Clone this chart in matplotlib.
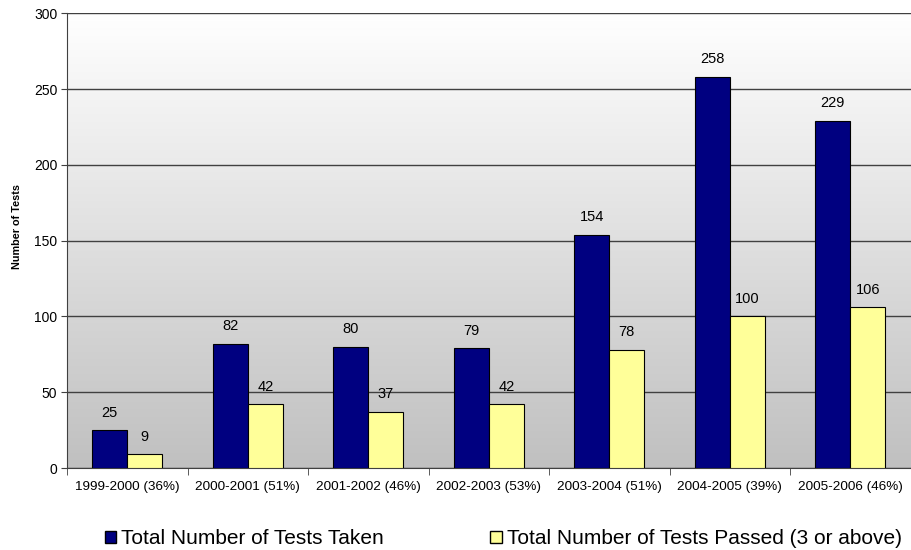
import numpy as np
import matplotlib.pyplot as plt
from matplotlib.patches import Patch
from matplotlib.colors import LinearSegmentedColormap

years = ["1999-2000 (36%)", "2000-2001 (51%)", "2001-2002 (46%)", "2002-2003 (53%)",
         "2003-2004 (51%)", "2004-2005 (39%)", "2005-2006 (46%)"]
taken = [25, 82, 80, 79, 154, 258, 229]
passed = [9, 42, 37, 42, 78, 100, 106]

plt.rcParams.update({
    'font.family': ['Liberation Sans', 'DejaVu Sans'],
    'font.size': 9,
})

fig = plt.figure(figsize=(9.12, 5.5), dpi=100)
ax = fig.add_axes([0.0735, 0.149, 0.925, 0.827])

# gradient background: white at top to grey at bottom
grad = np.linspace(1.0, 0.0, 256).reshape(-1, 1)
ax.imshow(grad, extent=[0, 1, 0, 1], transform=ax.transAxes, aspect='auto',
          cmap=LinearSegmentedColormap.from_list('g', ['#c0c0c0', '#ffffff']), zorder=0)

x = np.arange(len(years))
w = 0.29
ax.bar(x - w / 2, taken, w, color='#000080', edgecolor='black', linewidth=0.8, zorder=3)
ax.bar(x + w / 2, passed, w, color='#ffff99', edgecolor='black', linewidth=0.8, zorder=3)

for xi, v in zip(x - w / 2, taken):
    ax.text(xi, v + 7, str(v), ha='center', va='bottom', fontsize=10.5, zorder=4)
for xi, v in zip(x + w / 2, passed):
    ax.text(xi, v + 7, str(v), ha='center', va='bottom', fontsize=10.5, zorder=4)

ax.set_xlim(-0.5, len(years) - 0.5)
ax.set_ylim(0, 300)
ax.set_yticks(range(0, 301, 50))
ax.yaxis.grid(True, color='#404040', linewidth=1.0, zorder=1)
ax.set_axisbelow(True)

ax.set_xticks(x)
ax.set_xticklabels(years, fontsize=9.7)
ax.tick_params(axis='x', length=0, pad=9)
ax.set_xticks(np.arange(-0.5, len(years), 1.0), minor=True)
ax.tick_params(axis='x', which='minor', length=5, color='#404040')
ax.tick_params(axis='y', length=4, color='#404040', labelsize=10, pad=3)

for s in ['top', 'right']:
    ax.spines[s].set_visible(False)
ax.spines['left'].set_color('#404040')
ax.spines['bottom'].set_color('#404040')

ax.set_ylabel('Number of Tests', fontsize=7.8, fontweight='bold')
ax.yaxis.set_label_coords(-0.053, 0.53)

handles = [Patch(facecolor='#000080', edgecolor='black', label='Total Number of Tests Taken'),
           Patch(facecolor='#ffff99', edgecolor='black', label='Total Number of Tests Passed (3 or above)')]
fig.legend(handles=handles, loc='center', bbox_to_anchor=(0.552, 0.02), ncol=2, frameon=False,
           fontsize=15, handlelength=0.55, handleheight=0.55, handletextpad=0.25, columnspacing=5.1,
           borderpad=0)

plt.savefig('out.png', dpi=100, facecolor='white')
